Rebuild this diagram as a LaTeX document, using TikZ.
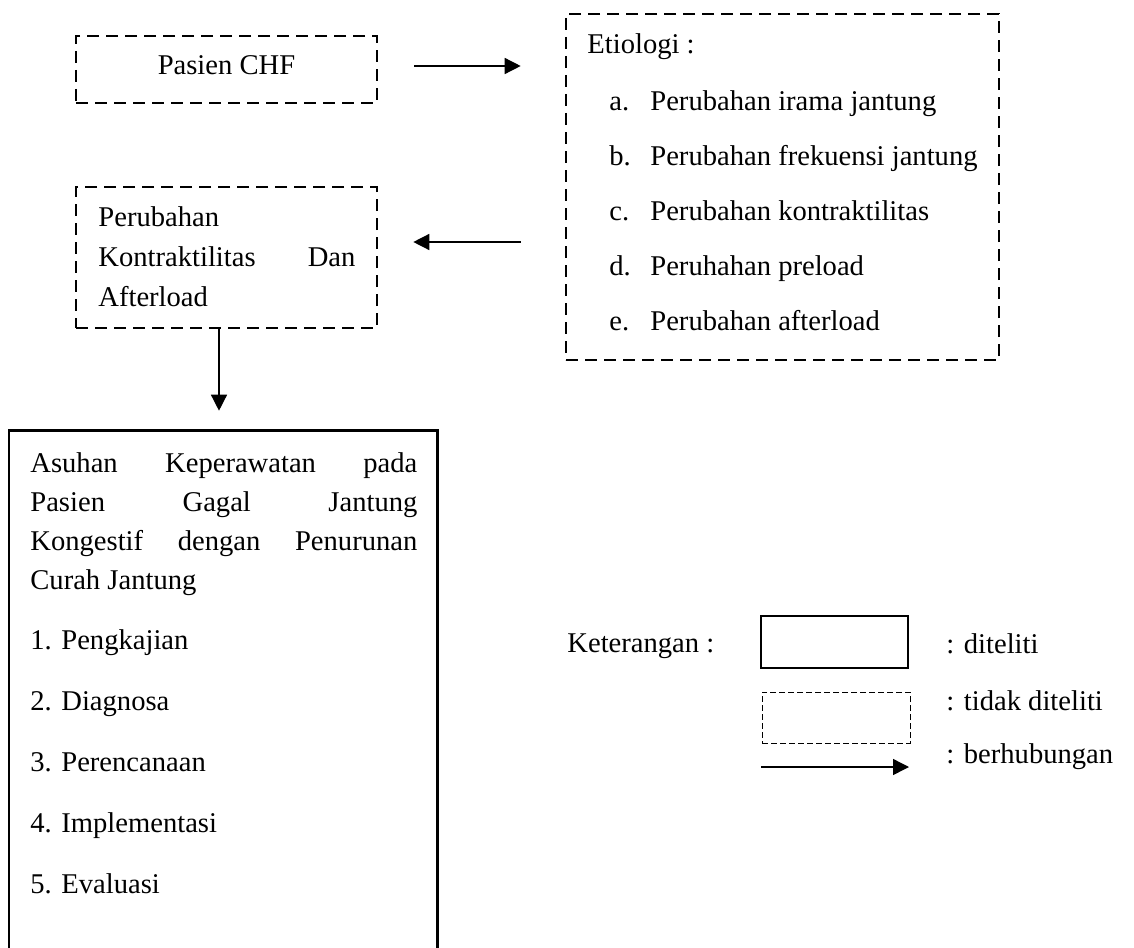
\documentclass[tikz,border=0pt]{standalone}
\usepackage{fontspec}
\setmainfont{Liberation Serif}
\usepackage{tikz}
\usetikzlibrary{arrows.meta,positioning}
\tikzstyle{arrow} = [line width=0.7pt,-{Triangle[length=8pt,width=8pt]}]
\tikzstyle{dashbox} = [rectangle, draw, line width=1.3pt, dash pattern=on 6pt off 3.5pt, inner sep=0pt]
\tikzstyle{solidbox} = [rectangle, draw, line width=1.3pt, inner sep=0pt]
\tikzstyle{txt} = [inner sep=0pt, align=left]

\begin{document}
\begin{tikzpicture}[x=0.5pt, y=-0.5pt, font=\fontsize{14.3}{19.5}\selectfont]
\clip (0,0) rectangle (1134,947);
% Top row (multi-line texts sit on the baseline of their last line)
\node[dashbox, minimum width=150.5pt, minimum height=33.5pt, text height=9.5pt, text depth=4pt] (chf) at (226.5,69.5) {Pasien CHF};
\node[dashbox, minimum width=216.5pt, minimum height=173pt] (etio) at (782.5,187) {};
\node[txt, anchor=base west, font=\fontsize{14.3}{27.5}\selectfont] (etiolist) at (587,330) {Etiologi :\\[1pt]
  \hspace*{11pt}\makebox[20.5pt][l]{a.}Perubahan irama jantung\\
  \hspace*{11pt}\makebox[20.5pt][l]{b.}Perubahan frekuensi jantung\\
  \hspace*{11pt}\makebox[20.5pt][l]{c.}Perubahan kontraktilitas\\
  \hspace*{11pt}\makebox[20.5pt][l]{d.}Peruhahan preload\\
  \hspace*{11pt}\makebox[20.5pt][l]{e.}Perubahan afterload};

% Second row
\node[dashbox, minimum width=150.5pt, minimum height=70.5pt] (perub) at (226.5,257.5) {};
\node[txt, anchor=base west, font=\fontsize{14.3}{20}\selectfont] (perubtext) at (98,306) {Perubahan\\
  \makebox[128.5pt][s]{Kontraktilitas Dan}\\
  Afterload};

% Studied box
\node[solidbox, minimum width=214.25pt, minimum height=274.75pt] (care) at (223.25,705.25) {};
\node[txt, anchor=base west] (caretext) at (30,893) {\makebox[193.5pt][s]{Asuhan Keperawatan pada}\\
  \makebox[193.5pt][s]{Pasien Gagal Jantung}\\
  \makebox[193.5pt][s]{Kongestif dengan Penurunan}\\
  Curah Jantung\\[10.9pt]
  1. Pengkajian\\[10.9pt]
  2. Diagnosa\\[10.9pt]
  3. Perencanaan\\[10.9pt]
  4. Implementasi\\[10.9pt]
  5. Evaluasi};

% Connectors
\draw[arrow, shorten <=18pt, shorten >=22pt] ([yshift=1.75pt]chf.east) -- ([yshift=1.75pt]chf.east -| etio.west);
\draw[arrow, shorten <=22pt, shorten >=17.5pt] ([yshift=7.75pt]perub.east -| etio.west) -- ([yshift=7.75pt]perub.east);
\draw[arrow, shorten >=9.25pt] ([xshift=-3.75pt]perub.south) -- ([xshift=-3.75pt]perub.south |- care.north);

% Legend
\node[txt, anchor=base west] (ket) at (567,652) {Keterangan :};
\node[solidbox, line width=1pt, minimum width=73.5pt, minimum height=26pt] (legsolid) at (834.5,642) {};
\node[txt, anchor=base west] (legsolidtxt) at (946,653) {: diteliti};
\node[rectangle, draw, line width=0.5pt, dash pattern=on 3pt off 1.5pt, inner sep=0pt, minimum width=74pt, minimum height=25.5pt] (legdash) at (836,717.5) {};
\node[txt, anchor=base west] (legdashtxt) at (946,710) {: tidak diteliti};
\coordinate (legarrow) at (761,767);
\node[txt, anchor=base west] (legarrowtxt) at (946,763) {: berhubungan};
\draw[arrow] (legarrow) -- (legarrow -| legsolid.east);
\end{tikzpicture}
\end{document}
